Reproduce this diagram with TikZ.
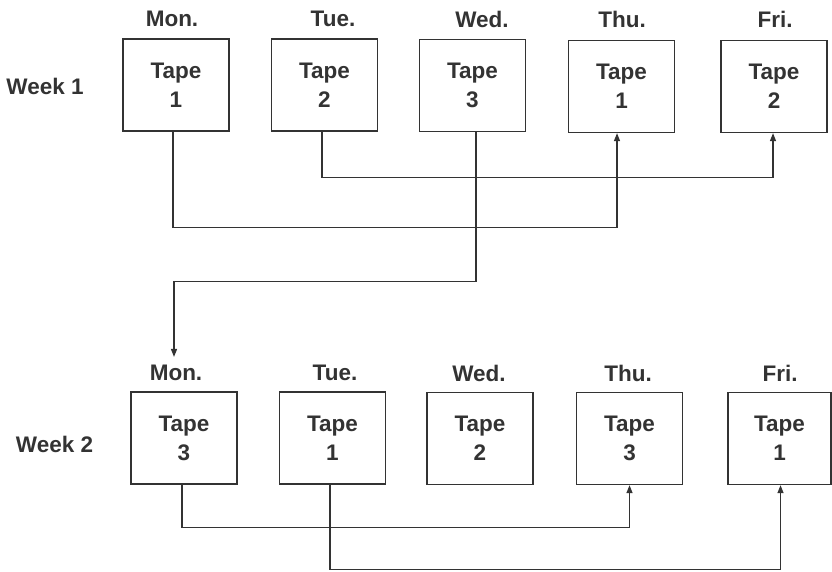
\documentclass[tikz,border=0pt]{standalone}
\usepackage{fontspec}
\setmainfont{Liberation Sans}
\usetikzlibrary{arrows.meta}
\definecolor{ink}{HTML}{333333}
\begin{document}
\begin{tikzpicture}[x=1pt,y=-1pt,
  font=\fontsize{22.5}{29}\selectfont\bfseries, text=ink,
  tapebox/.style={draw=ink, line width=1.3pt, minimum width=106pt, minimum height=92pt, align=center, inner sep=0pt},
  daylab/.style={inner sep=0pt},
  conn/.style={draw=ink, line width=1.2pt, -{Triangle[length=8pt,width=6pt]}}]
\useasboundingbox (0,0) rectangle (832,572);
% Week 1
\node[daylab] (wk1) at (45,86) {Week 1};
\node[tapebox] (a1) at (176,85) {Tape\\1};
\node[tapebox] (b1) at (324.5,85) {Tape\\2};
\node[tapebox] (c1) at (472.5,85.5) {Tape\\3};
\node[tapebox] (d1) at (621.5,86.5) {Tape\\1};
\node[tapebox] (e1) at (774,86.5) {Tape\\2};
\node[daylab] (la1) at (172,19) {Mon.};
\node[daylab] (lb1) at (333,19) {Tue.};
\node[daylab] (lc1) at (482,19) {Wed.};
\node[daylab] (ld1) at (622,19) {Thu.};
\node[daylab] (le1) at (775,19) {Fri.};
% Week 2
\node[daylab] (wk2) at (54.5,444.5) {Week 2};
\node[tapebox] (a2) at (184,438) {Tape\\3};
\node[tapebox] (b2) at (332.5,438) {Tape\\1};
\node[tapebox] (c2) at (480,438.5) {Tape\\2};
\node[tapebox] (d2) at (629.5,438.5) {Tape\\3};
\node[tapebox, minimum width=103pt] (e2) at (779.5,438.5) {Tape\\1};
\node[daylab] (la2) at (176,373) {Mon.};
\node[daylab] (lb2) at (335,373) {Tue.};
\node[daylab] (lc2) at (479,373) {Wed.};
\node[daylab] (ld2) at (628,373) {Thu.};
\node[daylab] (le2) at (780,373) {Fri.};
% connectors week 1
\draw[conn] ([xshift=-3pt]a1.south) -- ++(0,96) -| ([xshift=-4.5pt]d1.south);
\draw[conn] ([xshift=-2.5pt]b1.south) -- ++(0,46) -| ([xshift=-1pt]e1.south);
\draw[conn] ([xshift=3.5pt]c1.south) -- ++(0,149) -| ([xshift=-2pt,yshift=8pt]la2.north);
% connectors week 2
\draw[conn] ([xshift=-2pt]a2.south) -- ++(0,43) -| (d2.south);
\draw[conn] ([xshift=-2.5pt]b2.south) -- ++(0,85) -| ([xshift=1pt]e2.south);
\end{tikzpicture}
\end{document}
